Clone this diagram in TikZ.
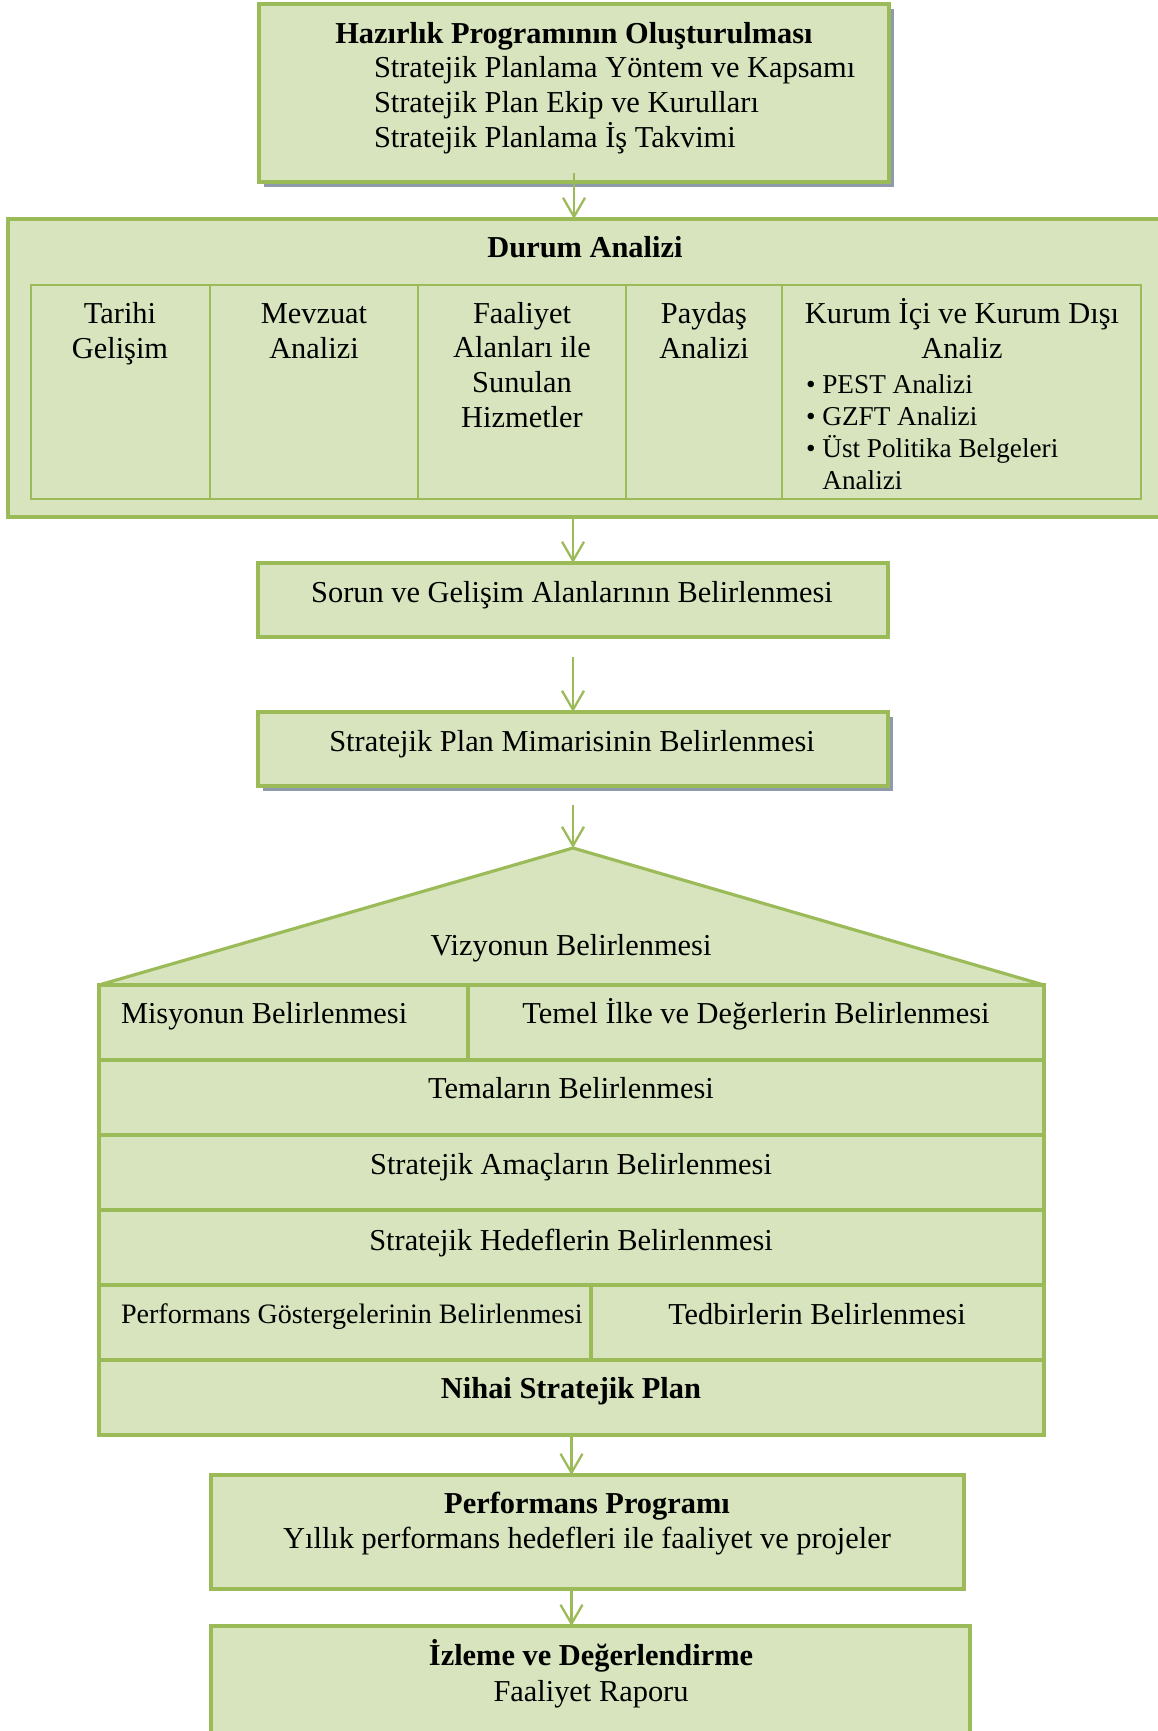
\documentclass[tikz,border=0pt]{standalone}
\usepackage{fontspec}
\setmainfont{Liberation Serif}
\usetikzlibrary{arrows.meta,
                positioning,
                shadows
                }
\definecolor{grnfill}{RGB}{215,228,189}
\definecolor{grnline}{RGB}{155,187,89}
\definecolor{shadegray}{RGB}{143,154,172}
\newdimen\pu \pu=0.02cm

\begin{document}
\begin{tikzpicture}[
        x = 0.02cm, y = -0.02cm,
        every node/.style = {inner sep=0pt, outer sep=0pt},
        box/.style = {draw=grnline, fill=grnfill, line width=2pt, anchor=north west},
        cell/.style = {draw=grnline, line width=1.6pt, minimum height=214\pu},
        row/.style = {draw=grnline, fill=grnfill, line width=1.8pt, minimum height=75\pu},
        shade/.style = {drop shadow={shadow xshift=0.09cm, shadow yshift=-0.09cm,
                                     fill=shadegray, opacity=1}},
        txt/.style = {anchor=base, font=\fontsize{17.3}{19.7}\selectfont},
        ttl/.style = {anchor=base, font=\fontsize{17.3}{19.7}\selectfont\bfseries},
        lst/.style = {anchor=base west, align=left, font=\fontsize{15.5}{18.2}\selectfont},
        flow/.style = {draw=grnline, line width=1.3pt,
                       -{Straight Barb[length=0.38cm, width=0.44cm]}}
    ]
    \useasboundingbox (0,0) rectangle (1158,1731);

    % preparation
    \node (hazir) [box, shade, minimum width=630\pu, minimum height=178\pu] at (259,4) {};
    \node (hazirT) [ttl] at (574,43) {Hazırlık Programının Oluşturulması};
    \node (hazirL) [txt, anchor=base west, align=left] at (374,147) {
        Stratejik Planlama Yöntem ve Kapsamı\\
        Stratejik Plan Ekip ve Kurulları\\
        Stratejik Planlama İş Takvimi
    };

    % situation analysis
    \node (durum) [box, minimum width=1155\pu, minimum height=298\pu] at (8,219) {};
    \node (durumT) [ttl] at (585,257) {Durum Analizi};
    \node (tarihi) [cell, anchor=north west, minimum width=179\pu] at (31,285) {};
    \node (mevzuat) [cell, minimum width=208\pu, right=0pt of tarihi] {};
    \node (faaliyet) [cell, minimum width=208\pu, right=0pt of mevzuat] {};
    \node (paydas) [cell, minimum width=156\pu, right=0pt of faaliyet] {};
    \node (kurum) [cell, minimum width=359\pu, right=0pt of paydas] {};
    \node (tarihiT) [txt, align=center] at (120,358) {Tarihi\\Gelişim};
    \node (mevzuatT) [txt, align=center] at (314,358) {Mevzuat\\Analizi};
    \node (faaliyetT) [txt, align=center] at (522,427) {
        Faaliyet\\Alanları ile\\Sunulan\\Hizmetler
    };
    \node (paydasT) [txt, align=center] at (704,358) {Paydaş\\Analizi};
    \node (kurumT) [txt, align=center] at (962,358) {Kurum İçi ve Kurum Dışı\\Analiz};
    \node (kurumL) [lst] at (806,489) {
        \textbullet\ PEST Analizi\\
        \textbullet\ GZFT Analizi\\
        \textbullet\ Üst Politika Belgeleri\\
        \phantom{\textbullet\ }Analizi
    };

    \node (sorun) [box, minimum width=630\pu, minimum height=74\pu] at (258,563) {};
    \node (sorunT) [txt] at (572,602) {Sorun ve Gelişim Alanlarının Belirlenmesi};

    \node (mimari) [box, shade, minimum width=630\pu, minimum height=74\pu] at (258,712) {};
    \node (mimariT) [txt] at (572,751) {Stratejik Plan Mimarisinin Belirlenmesi};

    % plan house
    \coordinate (apex) at (573,848);
    \draw [draw=grnline, fill=grnfill, line width=1.8pt, miter limit=2]
        (99,985) -- (apex) -- (1044,985) -- cycle;
    \node (vizyonT) [txt] at (571,955) {Vizyonun Belirlenmesi};

    \node (misyon) [row, anchor=north west, minimum width=369\pu] at (99,985) {};
    \node (temel) [row, minimum width=576\pu, right=0pt of misyon] {};
    \node (tema) [row, anchor=north west, minimum width=945\pu] at (99,1060) {};
    \node (amac) [row, anchor=north west, minimum width=945\pu] at (99,1135) {};
    \node (hedef) [row, anchor=north west, minimum width=945\pu] at (99,1210) {};
    \node (pgost) [row, anchor=north west, minimum width=492\pu] at (99,1285) {};
    \node (tedbir) [row, minimum width=453\pu, right=0pt of pgost] {};
    \node (nihai) [row, anchor=north west, minimum width=945\pu] at (99,1360) {};

    \node (misyonT) [txt, anchor=base west] at (121,1023) {Misyonun Belirlenmesi};
    \node (temelT) [txt] at (756,1023) {Temel İlke ve Değerlerin Belirlenmesi};
    \node (temaT) [txt] at (571,1098) {Temaların Belirlenmesi};
    \node (amacT) [txt] at (571,1174) {Stratejik Amaçların Belirlenmesi};
    \node (hedefT) [txt] at (571,1250) {Stratejik Hedeflerin Belirlenmesi};
    \node (pgostT) [txt, anchor=base west, font=\fontsize{16}{19}\selectfont] at (121,1323)
        {Performans Göstergelerinin Belirlenmesi};
    \node (tedbirT) [txt] at (817,1324) {Tedbirlerin Belirlenmesi};
    \node (nihaiT) [ttl] at (571,1398) {Nihai Stratejik Plan};

    % programme and monitoring
    \node (perf) [box, minimum width=753\pu, minimum height=114\pu] at (211,1475) {};
    \node (perfT) [ttl] at (587,1513) {Performans Programı};
    \node (perfL) [txt] at (587,1548) {Yıllık performans hedefleri ile faaliyet ve projeler};

    \node (izleme) [box, minimum width=759\pu, minimum height=120\pu] at (211,1626) {};
    \node (izlemeT) [ttl] at (591,1665) {İzleme ve Değerlendirme};
    \node (izlemeL) [txt] at (591,1701) {Faaliyet Raporu};

    \draw [flow] ([yshift=0.18cm]hazir.south) -- (hazir.south |- durum.north);
    \draw [flow] (sorun.north |- durum.south) -- (sorun.north);
    \draw [flow, shorten <=0.4cm] (sorun) -- (mimari);
    \draw [flow, shorten <=0.38cm] (mimari) -- (apex);
    \draw [flow] (nihai.south) -- (nihai.south |- perf.north);
    \draw [flow] (nihai.south |- perf.south) -- (nihai.south |- izleme.north);
\end{tikzpicture}
\end{document}
